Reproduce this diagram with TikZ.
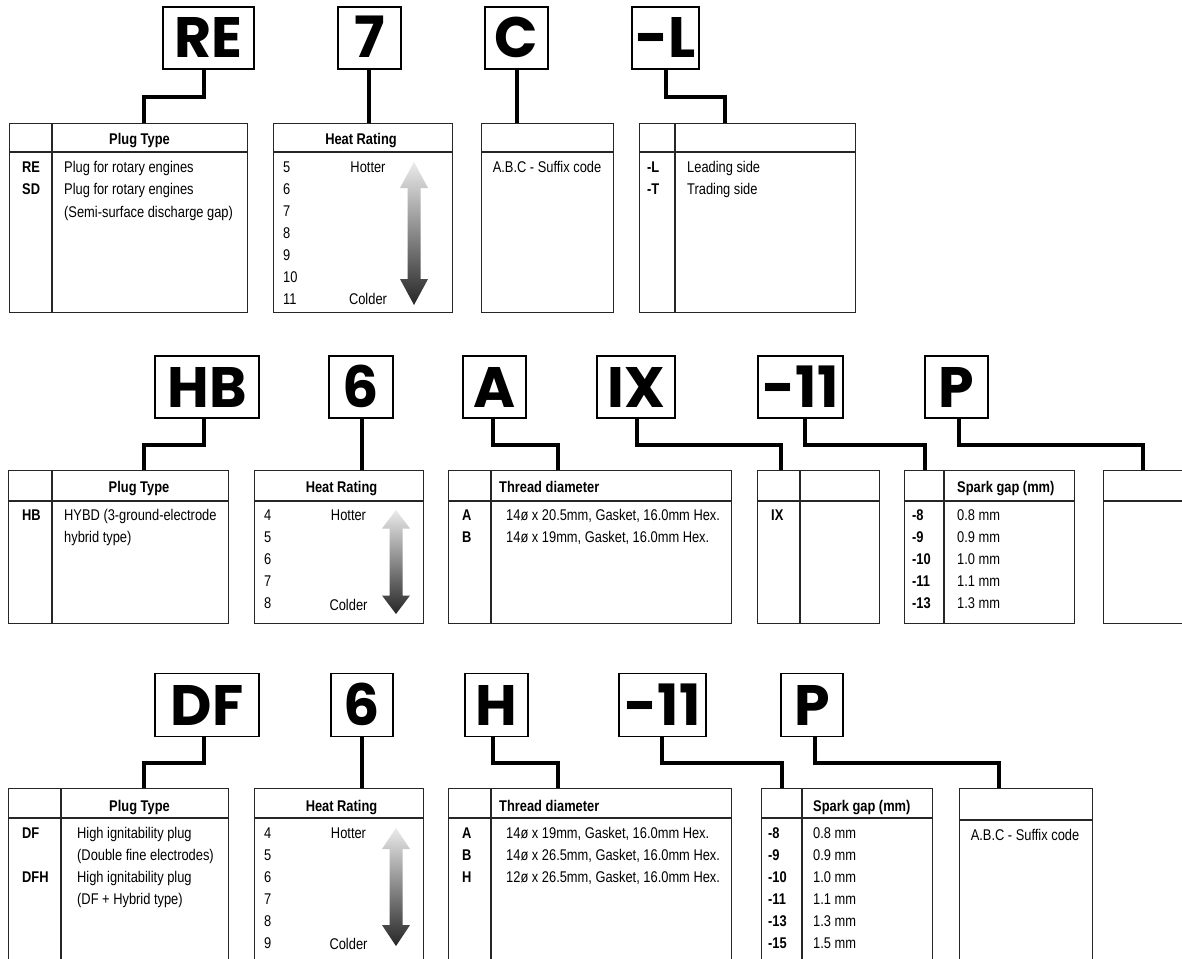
\documentclass[tikz,border=0pt]{standalone}
\usepackage{fontspec}
\newfontfamily\condfont[FakeStretch=0.83]{Liberation Sans}
\newfontfamily\keyfont{Poppins}
\usetikzlibrary{positioning}

\newcommand{\heatarrow}[4]{%
  \shade[top color=black!8, bottom color=black!85]
    (#1,#2) -- (#1+14,#2+#4) -- (#1+6.5,#2+#4) -- (#1+6.5,#3-#4) -- (#1+14,#3-#4)
    -- (#1,#3) -- (#1-14,#3-#4) -- (#1-6.5,#3-#4) -- (#1-6.5,#2+#4) -- (#1-14,#2+#4) -- cycle;}

\begin{document}
\begin{tikzpicture}[x=1pt, y=-1pt,
    keybox/.style={draw, line width=1.4pt, inner sep=0pt, minimum height=62pt,
                   font=\keyfont\bfseries\fontsize{57}{60}\selectfont,
                   text height=40pt, text depth=0pt},
    tab/.style={draw=black!85, line width=1.1pt, anchor=north west, inner sep=0pt},
    rule/.style={draw=black!85, line width=1.1pt},
    conn/.style={line width=3.6pt},
    txt/.style={font=\condfont\fontsize{15.5}{18}\selectfont, inner sep=0pt,
                text height=11pt, text depth=0pt, anchor=west},
    codetxt/.style={txt, font=\condfont\bfseries\fontsize{15.5}{18}\selectfont},
    headtxt/.style={codetxt, anchor=center},
    ctxt/.style={txt, anchor=center}]
  \useasboundingbox[fill=white] (0,0) rectangle (1182,958);

  % row 1: RE7C-L
  \node[keybox, minimum width=91pt] (type1) at (208.5,38) {RE};
  \node[keybox, minimum width=63pt] (heat1) at (369.5,38) {7};
  \node[keybox, minimum width=63pt] (suf1)  at (516.5,38) {C};
  \node[keybox, minimum width=67pt] (side1) at (665.5,38) {-L};

  \node[tab, minimum width=238pt, minimum height=189pt] (ttype1) at (9,123) {};
  \node[tab, minimum width=179pt, minimum height=189pt] (theat1) at (273,123) {};
  \node[tab, minimum width=132pt, minimum height=189pt] (tsuf1)  at (481,123) {};
  \node[tab, minimum width=216pt, minimum height=189pt] (tside1) at (639,123) {};
  \draw[rule] (ttype1.north west |- 0,152) -- (ttype1.north east |- 0,152);
  \draw[rule] (theat1.north west |- 0,152) -- (theat1.north east |- 0,152);
  \draw[rule] (tsuf1.north west |- 0,152) -- (tsuf1.north east |- 0,152);
  \draw[rule] (tside1.north west |- 0,152) -- (tside1.north east |- 0,152);
  \draw[rule] (ttype1.north -| 52,0) -- (ttype1.south -| 52,0);
  \draw[rule] (tside1.north -| 675,0) -- (tside1.south -| 675,0);

  \draw[conn] (type1.south -| 204,0) |- (144,97) -- (ttype1.north -| 144,0);
  \draw[conn] (heat1.south -| 369,0) -- (theat1.north -| 369,0);
  \draw[conn] (suf1.south -| 517,0) -- (tsuf1.north -| 517,0);
  \draw[conn] (side1.south -| 666,0) |- (725,97) -- (tside1.north -| 725,0);

  \node[headtxt] (type1h) at (139.5,139) {Plug Type};
  \node[codetxt] (type1a) at (22,167) {RE};
  \node[codetxt] (type1b) at (22,189) {SD};
  \node[txt] (type1c) at (64,167) {Plug for rotary engines};
  \node[txt] (type1d) at (64,189) {Plug for rotary engines};
  \node[txt] (type1e) at (64,212) {(Semi-surface discharge gap)};

  \node[headtxt] (heat1h) at (361,139) {Heat Rating};
  \foreach \n [count=\i] in {5,...,11}
    \node[txt] (heat1n\i) at (283,167+22*\i-22) {\n};
  \node[ctxt] (heat1hot) at (368,167) {Hotter};
  \node[ctxt] (heat1cold) at (368,299) {Colder};
  \heatarrow{414}{162}{305}{26}

  \node[ctxt] (suf1a) at (547,167) {A.B.C - Suffix code};

  \node[codetxt] (side1a) at (647,167) {-L};
  \node[codetxt] (side1b) at (647,189) {-T};
  \node[txt] (side1c) at (687,167) {Leading side};
  \node[txt] (side1d) at (687,189) {Trading side};

  % row 2: HB6AIX-11P
  \node[keybox, minimum width=104pt] (type2) at (207,387) {HB};
  \node[keybox, minimum width=64pt]  (heat2) at (361,387) {6};
  \node[keybox, minimum width=63pt]  (thr2)  at (494.5,387) {A};
  \node[keybox, minimum width=78pt]  (ix2)   at (636,387) {IX};
  \node[keybox, minimum width=85pt]  (gap2)  at (800.5,387) {-11};
  \node[keybox, minimum width=63pt]  (pl2)   at (956.5,387) {P};

  \node[tab, minimum width=220pt, minimum height=153pt] (ttype2) at (8,470) {};
  \node[tab, minimum width=169pt, minimum height=153pt] (theat2) at (254,470) {};
  \node[tab, minimum width=283pt, minimum height=153pt] (tthr2)  at (448,470) {};
  \node[tab, minimum width=122pt, minimum height=153pt] (tix2)   at (757,470) {};
  \node[tab, minimum width=170pt, minimum height=153pt] (tgap2)  at (904,470) {};
  \node[tab, minimum width=110pt, minimum height=153pt] (tpl2)   at (1103,470) {};
  \draw[rule] (ttype2.north west |- 0,501) -- (ttype2.north east |- 0,501);
  \draw[rule] (theat2.north west |- 0,501) -- (theat2.north east |- 0,501);
  \draw[rule] (tthr2.north west |- 0,501) -- (tthr2.north east |- 0,501);
  \draw[rule] (tix2.north west |- 0,501) -- (tix2.north east |- 0,501);
  \draw[rule] (tgap2.north west |- 0,501) -- (tgap2.north east |- 0,501);
  \draw[rule] (tpl2.north west |- 0,501) -- (tpl2.north east |- 0,501);
  \draw[rule] (ttype2.north -| 52,0) -- (ttype2.south -| 52,0);
  \draw[rule] (tthr2.north -| 491,0) -- (tthr2.south -| 491,0);
  \draw[rule] (tix2.north -| 800,0) -- (tix2.south -| 800,0);
  \draw[rule] (tgap2.north -| 944,0) -- (tgap2.south -| 944,0);

  \draw[conn] (type2.south -| 204,0) |- (144,445) -- (ttype2.north -| 144,0);
  \draw[conn] (heat2.south -| 362,0) -- (theat2.north -| 362,0);
  \draw[conn] (thr2.south -| 493,0) |- (558,445) -- (tthr2.north -| 558,0);
  \draw[conn] (ix2.south -| 637,0) |- (781,445) -- (tix2.north -| 781,0);
  \draw[conn] (gap2.south -| 805,0) |- (925,445) -- (tgap2.north -| 925,0);
  \draw[conn] (pl2.south -| 959,0) |- (1143,445) -- (tpl2.north -| 1143,0);

  \node[headtxt] (type2h) at (139,487) {Plug Type};
  \node[codetxt] (type2a) at (22,515) {HB};
  \node[txt] (type2b) at (64,515) {HYBD (3-ground-electrode};
  \node[txt] (type2c) at (64,537) {hybrid type)};

  \node[headtxt] (heat2h) at (341.5,487) {Heat Rating};
  \foreach \n [count=\i] in {4,...,8}
    \node[txt] (heat2n\i) at (264,515+22*\i-22) {\n};
  \node[ctxt] (heat2hot) at (348.5,515) {Hotter};
  \node[ctxt] (heat2cold) at (348.5,605) {Colder};
  \heatarrow{396}{510}{614}{18.5}

  \node[codetxt] (thr2h) at (499,487) {Thread diameter};
  \node[codetxt] (thr2a) at (462,515) {A};
  \node[codetxt] (thr2b) at (462,537) {B};
  \node[txt] (thr2c) at (506,515) {14ø x 20.5mm, Gasket, 16.0mm Hex.};
  \node[txt] (thr2d) at (506,537) {14ø x 19mm, Gasket, 16.0mm Hex.};

  \node[codetxt] (ix2a) at (771,515) {IX};

  \node[codetxt] (gap2h) at (957,487) {Spark gap (mm)};
  \foreach \c/\v [count=\i] in {-8/0.8,-9/0.9,-10/1.0,-11/1.1,-13/1.3} {
    \node[codetxt] (gap2c\i) at (912,515+22*\i-22) {\c};
    \node[txt] (gap2v\i) at (957,515+22*\i-22) {\v\ mm};
  }

  % row 3: DF6H-11P
  \node[keybox, minimum width=104pt, minimum height=63pt] (type3) at (207,705) {DF};
  \node[keybox, minimum width=62pt, minimum height=63pt]  (heat3) at (362,705) {6};
  \node[keybox, minimum width=63pt, minimum height=63pt]  (thr3)  at (496.5,705) {H};
  \node[keybox, minimum width=87pt, minimum height=63pt]  (gap3)  at (662.5,705) {-11};
  \node[keybox, minimum width=62pt, minimum height=63pt]  (pl3)   at (812,705) {P};

  \node[tab, minimum width=220pt, minimum height=180pt] (ttype3) at (8,788) {};
  \node[tab, minimum width=169pt, minimum height=180pt] (theat3) at (254,788) {};
  \node[tab, minimum width=283pt, minimum height=180pt] (tthr3)  at (448,788) {};
  \node[tab, minimum width=171pt, minimum height=180pt] (tgap3)  at (761,788) {};
  \node[tab, minimum width=133pt, minimum height=180pt] (tsuf3)  at (959,788) {};
  \draw[rule] (ttype3.north west |- 0,818) -- (ttype3.north east |- 0,818);
  \draw[rule] (theat3.north west |- 0,818) -- (theat3.north east |- 0,818);
  \draw[rule] (tthr3.north west |- 0,818) -- (tthr3.north east |- 0,818);
  \draw[rule] (tgap3.north west |- 0,818) -- (tgap3.north east |- 0,818);
  \draw[rule] (tsuf3.north west |- 0,820) -- (tsuf3.north east |- 0,820);
  \draw[rule] (ttype3.north -| 61,0) -- (ttype3.south -| 61,0);
  \draw[rule] (tthr3.north -| 491,0) -- (tthr3.south -| 491,0);
  \draw[rule] (tgap3.north -| 802,0) -- (tgap3.south -| 802,0);

  \draw[conn] (type3.south -| 204,0) |- (144,763) -- (ttype3.north -| 144,0);
  \draw[conn] (heat3.south -| 362,0) -- (theat3.north -| 362,0);
  \draw[conn] (thr3.south -| 493,0) |- (558,763) -- (tthr3.north -| 558,0);
  \draw[conn] (gap3.south -| 662,0) |- (782,763) -- (tgap3.north -| 782,0);
  \draw[conn] (pl3.south -| 815,0) |- (999,763) -- (tsuf3.north -| 999,0);

  \node[headtxt] (type3h) at (139.5,806) {Plug Type};
  \node[codetxt] (type3a) at (22,833) {DF};
  \node[codetxt] (type3b) at (22,877) {DFH};
  \node[txt] (type3c) at (77,833) {High ignitability plug};
  \node[txt] (type3d) at (77,855) {(Double fine electrodes)};
  \node[txt] (type3e) at (77,877) {High ignitability plug};
  \node[txt] (type3f) at (77,899) {(DF + Hybrid type)};

  \node[headtxt] (heat3h) at (341.5,806) {Heat Rating};
  \foreach \n [count=\i] in {4,...,9}
    \node[txt] (heat3n\i) at (264,833+22*\i-22) {\n};
  \node[ctxt] (heat3hot) at (348.5,833) {Hotter};
  \node[ctxt] (heat3cold) at (348.5,944) {Colder};
  \heatarrow{396}{828}{946}{21}

  \node[codetxt] (thr3h) at (499,806) {Thread diameter};
  \node[codetxt] (thr3a) at (462,833) {A};
  \node[codetxt] (thr3b) at (462,855) {B};
  \node[codetxt] (thr3c) at (462,877) {H};
  \node[txt] (thr3d) at (506,833) {14ø x 19mm, Gasket, 16.0mm Hex.};
  \node[txt] (thr3e) at (506,855) {14ø x 26.5mm, Gasket, 16.0mm Hex.};
  \node[txt] (thr3f) at (506,877) {12ø x 26.5mm, Gasket, 16.0mm Hex.};

  \node[codetxt] (gap3h) at (813,806) {Spark gap (mm)};
  \foreach \c/\v [count=\i] in {-8/0.8,-9/0.9,-10/1.0,-11/1.1,-13/1.3,-15/1.5} {
    \node[codetxt] (gap3c\i) at (768,833+22*\i-22) {\c};
    \node[txt] (gap3v\i) at (813,833+22*\i-22) {\v\ mm};
  }

  \node[ctxt] (suf3a) at (1025,835) {A.B.C - Suffix code};
\end{tikzpicture}
\end{document}
